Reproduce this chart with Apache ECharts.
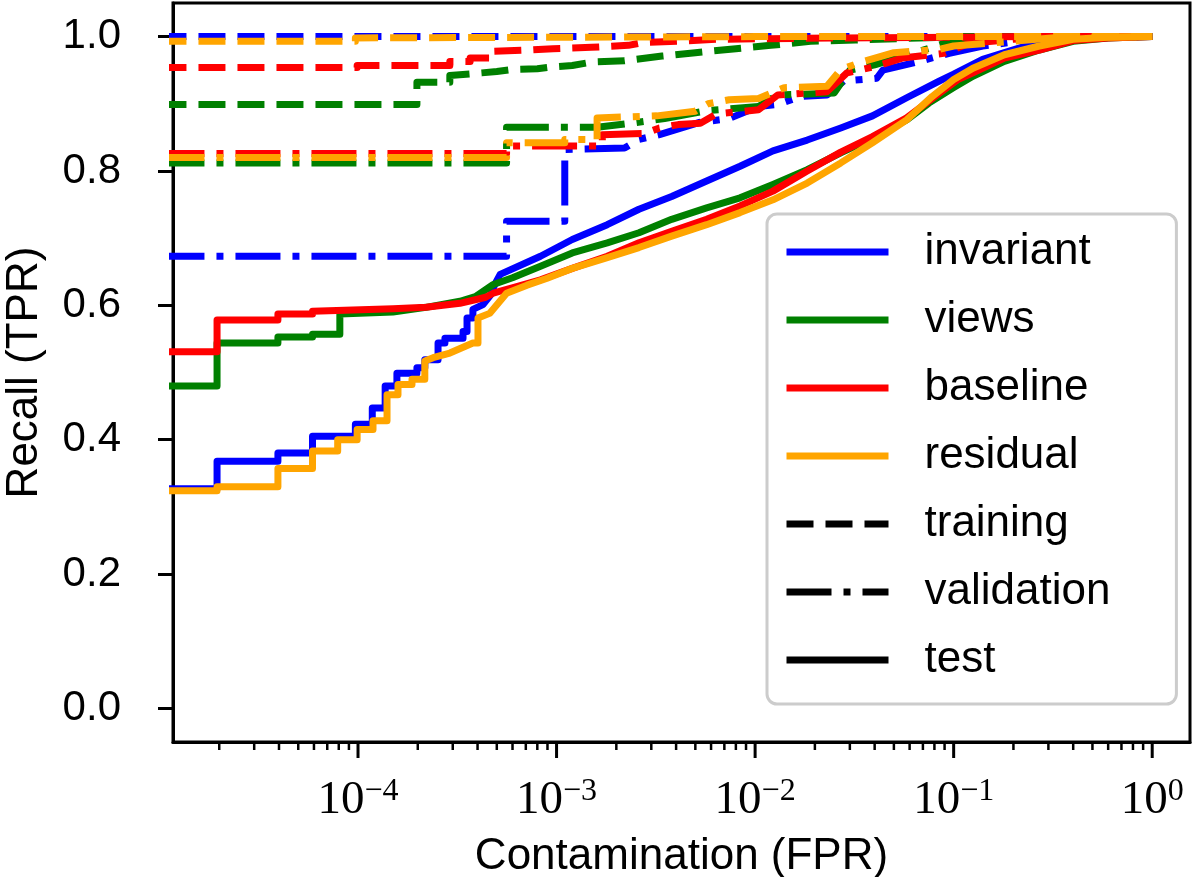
<!DOCTYPE html>
<html lang="en">
<head>
<meta charset="utf-8">
<script src="https://cdn.jsdelivr.net/npm/echarts@6/dist/echarts.min.js"></script>
<style>
    html, body { margin: 0; background: #fff; }
    #main { width: 1200px; height: 877px; }
</style>
</head>
<body>
<div id="main"></div>
<script>
    // ROC curves, [FPR, TPR]
    var invariantTrain = [[1e-5, 1.0], [1, 1.0]];
    var invariantVal = [[1e-5, 0.673], [5.6e-4, 0.673], [5.6e-4, 0.725], [1.1e-3, 0.725], [1.1e-3, 0.832],
        [2.2e-3, 0.834], [2.6e-3, 0.847], [3.3e-3, 0.854], [5.2e-3, 0.872], [7.4e-3, 0.878], [1.04e-2, 0.896],
        [1.3e-2, 0.899], [1.7e-2, 0.911], [2.3e-2, 0.913], [2.8e-2, 0.934], [4.1e-2, 0.938], [4.4e-2, 0.95],
        [6.5e-2, 0.962], [9.5e-2, 0.975], [0.14, 0.986], [0.2, 0.992], [0.25, 0.996], [0.3, 1.0], [1, 1.0]];
    var invariantTest = [[1e-5, 0.327], [1.95e-5, 0.327], [1.95e-5, 0.368], [3.95e-5, 0.368], [3.95e-5, 0.380],
        [5.9e-5, 0.380], [5.9e-5, 0.405], [9.7e-5, 0.405], [9.7e-5, 0.423], [1.18e-4, 0.423], [1.18e-4, 0.447],
        [1.37e-4, 0.447], [1.37e-4, 0.480], [1.57e-4, 0.480], [1.57e-4, 0.499], [1.98e-4, 0.499], [1.98e-4, 0.507],
        [2.17e-4, 0.507], [2.17e-4, 0.519], [2.53e-4, 0.519], [2.53e-4, 0.544], [2.74e-4, 0.544], [2.74e-4, 0.551],
        [3.38e-4, 0.551], [3.38e-4, 0.561], [3.54e-4, 0.561], [3.54e-4, 0.581], [3.79e-4, 0.581], [3.79e-4, 0.594],
        [4.26e-4, 0.601], [4.62e-4, 0.614], [4.9e-4, 0.632], [5.2e-4, 0.646], [8.3e-4, 0.673], [1.2e-3, 0.698],
        [1.8e-3, 0.72], [2.6e-3, 0.743], [3.8e-3, 0.762], [5.7e-3, 0.785], [8.4e-3, 0.807], [1.23e-2, 0.83],
        [1.83e-2, 0.846], [2.7e-2, 0.864], [3.9e-2, 0.882], [5.8e-2, 0.909], [8.5e-2, 0.934], [0.1, 0.944],
        [0.14, 0.966], [0.23, 0.986], [0.37, 0.996], [0.6, 0.999], [1, 1.0]];

    var viewsTrain = [[1e-5, 0.899], [1.98e-4, 0.899], [1.98e-4, 0.932], [2.9e-4, 0.932], [2.9e-4, 0.942],
        [4.2e-4, 0.946], [5e-4, 0.948], [6e-4, 0.951], [8e-4, 0.952], [9.6e-4, 0.955], [1.2e-3, 0.957],
        [1.5e-3, 0.962], [2.2e-3, 0.964], [3.4e-3, 0.971], [5e-3, 0.976], [8e-3, 0.982], [1.2e-2, 0.987],
        [1.9e-2, 0.993], [3.2e-2, 0.995], [6.7e-2, 0.998], [0.11, 1.0], [1, 1.0]];
    var viewsVal = [[1e-5, 0.812], [5.6e-4, 0.812], [5.6e-4, 0.865], [1.6e-3, 0.865], [2.5e-3, 0.872],
        [3.5e-3, 0.878], [5.8e-3, 0.89], [1.04e-2, 0.896], [1.3e-2, 0.913], [2.5e-2, 0.916], [3e-2, 0.95],
        [4e-2, 0.958], [5.5e-2, 0.97], [9e-2, 0.99], [0.15, 0.995], [0.3, 1.0], [1, 1.0]];
    var viewsTest = [[1e-5, 0.480], [1.95e-5, 0.480], [1.95e-5, 0.544], [3.95e-5, 0.544], [3.95e-5, 0.553],
        [5.9e-5, 0.553], [5.9e-5, 0.557], [8.1e-5, 0.557], [8.1e-5, 0.587], [1.5e-4, 0.59], [2.2e-4, 0.597],
        [3.26e-4, 0.606], [3.9e-4, 0.613], [4.8e-4, 0.631], [6e-4, 0.641], [8.3e-4, 0.658], [1.2e-3, 0.678],
        [1.8e-3, 0.693], [2.6e-3, 0.708], [3.8e-3, 0.728], [5.7e-3, 0.745], [8.4e-3, 0.76], [1.23e-2, 0.78],
        [1.83e-2, 0.802], [2.7e-2, 0.827], [3.9e-2, 0.849], [5.8e-2, 0.876], [7.5e-2, 0.901], [0.1, 0.924],
        [0.125, 0.941], [0.18, 0.963], [0.27, 0.98], [0.4, 0.993], [0.6, 0.998], [1, 1.0]];

    var baselineTrain = [[1e-5, 0.954], [9.9e-5, 0.954], [9.9e-5, 0.957], [2.9e-4, 0.957], [2.9e-4, 0.963],
        [3.67e-4, 0.963], [3.67e-4, 0.968], [4.8e-4, 0.968], [4.8e-4, 0.978], [7.3e-4, 0.980], [9.6e-4, 0.982],
        [1.5e-3, 0.984], [2.3e-3, 0.987], [2.7e-3, 0.991], [4.1e-3, 0.993], [6.4e-3, 0.996], [2.5e-2, 0.998],
        [0.11, 0.999], [0.24, 1.0], [1, 1.0]];
    var baselineVal = [[1e-5, 0.826], [5.6e-4, 0.826], [5.6e-4, 0.837], [1.7e-3, 0.837], [1.7e-3, 0.854],
        [2.8e-3, 0.856], [3.3e-3, 0.864], [4.1e-3, 0.869], [5.3e-3, 0.871], [6.4e-3, 0.885], [1.04e-2, 0.891],
        [1.3e-2, 0.913], [2.3e-2, 0.918], [2.9e-2, 0.946], [4.1e-2, 0.956], [5.5e-2, 0.968], [8.9e-2, 0.975],
        [0.12, 0.99], [0.2, 0.996], [0.35, 1.0], [1, 1.0]];
    var baselineTest = [[1e-5, 0.531], [1.95e-5, 0.531], [1.95e-5, 0.578], [3.95e-5, 0.578], [3.95e-5, 0.587],
        [5.9e-5, 0.587], [5.9e-5, 0.591], [1.5e-4, 0.595], [2.2e-4, 0.597], [3.26e-4, 0.603], [4.4e-4, 0.612],
        [4.8e-4, 0.618], [6.3e-4, 0.628], [8.3e-4, 0.638], [1.2e-3, 0.655], [1.8e-3, 0.673], [2.6e-3, 0.693],
        [3.8e-3, 0.71], [5.7e-3, 0.728], [8.4e-3, 0.748], [1.23e-2, 0.77], [1.83e-2, 0.8], [2.7e-2, 0.828],
        [3.9e-2, 0.851], [5.8e-2, 0.879], [8.5e-2, 0.916], [0.105, 0.936], [0.125, 0.946], [0.18, 0.968],
        [0.27, 0.98], [0.4, 0.994], [0.6, 0.998], [1, 1.0]];

    var residualTrain = [[1e-5, 0.993], [9.7e-5, 0.993], [9.7e-5, 0.998], [1e-3, 0.999], [1e-2, 1.0], [1, 1.0]];
    var residualVal = [[1e-5, 0.820], [5.6e-4, 0.820], [5.6e-4, 0.842], [1.1e-3, 0.842], [1.1e-3, 0.847],
        [1.6e-3, 0.847], [1.6e-3, 0.879], [3.2e-3, 0.882], [5e-3, 0.889], [5.8e-3, 0.9], [7.4e-3, 0.906],
        [1.04e-2, 0.908], [1.4e-2, 0.924], [2.3e-2, 0.926], [2.7e-2, 0.951], [3.5e-2, 0.963], [5e-2, 0.976],
        [8.5e-2, 0.981], [0.1, 0.986], [0.2, 0.993], [0.35, 0.999], [1, 1.0]];
    var residualTest = [[1e-5, 0.324], [1.95e-5, 0.324], [1.95e-5, 0.330], [3.95e-5, 0.330], [3.95e-5, 0.357],
        [5.9e-5, 0.357], [5.9e-5, 0.383], [7.9e-5, 0.383], [7.9e-5, 0.400], [9.9e-5, 0.400], [9.9e-5, 0.415],
        [1.19e-4, 0.415], [1.19e-4, 0.428], [1.4e-4, 0.428], [1.4e-4, 0.467], [1.59e-4, 0.467], [1.59e-4, 0.482],
        [1.87e-4, 0.482], [1.87e-4, 0.490], [2.17e-4, 0.490], [2.17e-4, 0.517], [2.39e-4, 0.522], [2.9e-4, 0.529],
        [3.79e-4, 0.544], [4.02e-4, 0.544], [4.02e-4, 0.581], [4.6e-4, 0.588], [5.6e-4, 0.618], [7.1e-4, 0.630],
        [8.9e-4, 0.640], [1.2e-3, 0.655], [1.8e-3, 0.671], [2.6e-3, 0.686], [3.8e-3, 0.703], [5.7e-3, 0.72],
        [8.4e-3, 0.738], [1.23e-2, 0.757], [1.83e-2, 0.782], [2.7e-2, 0.812], [3.9e-2, 0.842], [5.8e-2, 0.876],
        [7.8e-2, 0.911], [0.1, 0.936], [0.125, 0.953], [0.18, 0.973], [0.27, 0.986], [0.4, 0.996], [0.6, 0.999],
        [1, 1.0]];

    var models = ['invariant', 'views', 'baseline', 'residual'];
    var splits = ['training', 'validation', 'test'];
    var yTicks = [0, 0.2, 0.4, 0.6, 0.8, 1.0];
    var majorTicks = [1e-4, 1e-3, 1e-2, 1e-1, 1];
    var minorTicks = [2e-5, 3e-5, 4e-5, 5e-5, 6e-5, 7e-5, 8e-5, 9e-5,
        2e-4, 3e-4, 4e-4, 5e-4, 6e-4, 7e-4, 8e-4, 9e-4,
        2e-3, 3e-3, 4e-3, 5e-3, 6e-3, 7e-3, 8e-3, 9e-3,
        2e-2, 3e-2, 4e-2, 5e-2, 6e-2, 7e-2, 8e-2, 9e-2,
        0.2, 0.3, 0.4, 0.5, 0.6, 0.7, 0.8, 0.9];

    var curves = {
        invariant: [invariantTrain, invariantVal, invariantTest],
        views: [viewsTrain, viewsVal, viewsTest],
        baseline: [baselineTrain, baselineVal, baselineTest],
        residual: [residualTrain, residualVal, residualTest]
    };
    var colors = ['#0000ff', '#008000', '#ff0000', '#ffa500'];
    var dashes = [[27, 12], [45, 12, 7, 12], 'solid'];
    var SANS = '"Liberation Sans", Arial, sans-serif';
    var SERIF = '"Liberation Serif", "Times New Roman", serif';
    var LW = 7;

    var series = [];
    models.forEach(function (m, i) {
        curves[m].forEach(function (d, j) {
            series.push({
                type: 'line',
                name: j === 2 ? m : m + ' ' + splits[j],
                data: d,
                symbol: 'none',
                showSymbol: false,
                clip: true,
                color: colors[i],
                lineStyle: { color: colors[i], width: LW, type: dashes[j], cap: 'butt', join: 'round' },
                emphasis: { disabled: true }
            });
        });
    });
    // black entries for the line-style part of the legend
    splits.forEach(function (s, j) {
        series.push({
            type: 'line',
            name: s,
            data: [],
            symbol: 'none',
            color: '#000',
            lineStyle: { color: '#000', width: LW, type: dashes[j], cap: 'butt' }
        });
    });

    // x ticks of the log axis (major + minor), drawn at their axis positions
    function tickSeries(name, values, len, width) {
        return {
            type: 'custom',
            name: name,
            silent: true,
            clip: false,
            data: values.map(function (v) { return [v, 0]; }),
            renderItem: function (params, api) {
                var x = api.coord([api.value(0), 0])[0];
                var bottom = params.coordSys.y + params.coordSys.height;
                return {
                    type: 'line',
                    shape: { x1: x, y1: bottom, x2: x, y2: bottom + len },
                    style: { stroke: '#000', lineWidth: width }
                };
            }
        };
    }
    series.push(tickSeries('major ticks', majorTicks, 16, 3));
    series.push(tickSeries('minor ticks', minorTicks, 8, 2.5));

    var axisLineStyle = { color: '#000', width: 3 };

    var chart = echarts.init(document.getElementById('main'), null, { renderer: 'canvas' });
    chart.setOption({
        animation: false,
        grid: {
            left: 173, right: 10, top: 3, bottom: 135,
            containLabel: false,
            outerBoundsMode: 'none',
            show: true, borderColor: '#000', borderWidth: 3, backgroundColor: 'transparent'
        },
        xAxis: {
            type: 'log',
            logBase: 10,
            min: 1.17e-5,
            max: 1.55,
            name: 'Contamination (FPR)',
            nameLocation: 'middle',
            nameGap: 93,
            nameTextStyle: { fontFamily: SANS, fontSize: 44, color: '#000' },
            axisLine: { onZero: false, lineStyle: axisLineStyle },
            axisTick: { show: false },
            splitLine: { show: false },
            minorTick: { show: false },
            axisLabel: {
                margin: 34,
                formatter: function (v) {
                    var e = Math.log10(v);
                    if (Math.abs(e - Math.round(e)) > 1e-6) return '';
                    e = Math.round(e);
                    return '{b|10}{s|' + (e < 0 ? '\u2212' : '') + Math.abs(e) + '}';
                },
                rich: {
                    b: { fontFamily: SERIF, fontSize: 47, color: '#000', lineHeight: 50 },
                    s: { fontFamily: SERIF, fontSize: 32, color: '#000', lineHeight: 30, verticalAlign: 'top' }
                }
            }
        },
        yAxis: {
            type: 'value',
            min: -0.05,
            max: 1.05,
            name: 'Recall (TPR)',
            nameLocation: 'middle',
            nameGap: 126,
            nameTextStyle: { fontFamily: SANS, fontSize: 44, color: '#000' },
            axisLine: { show: true, onZero: false, lineStyle: axisLineStyle },
            axisTick: { show: true, length: 15, lineStyle: axisLineStyle, customValues: yTicks },
            splitLine: { show: false },
            axisLabel: {
                margin: 52,
                fontFamily: SANS,
                fontSize: 42,
                color: '#000',
                customValues: yTicks,
                formatter: function (v) { return v.toFixed(1); }
            }
        },
        legend: {
            data: models.concat(splits),
            orient: 'vertical',
            left: 767,
            top: 214,
            padding: [16, 66, 22, 16],
            itemWidth: 102,
            itemHeight: 20,
            itemGap: 24,
            selectedMode: false,
            itemStyle: { opacity: 0 },
            lineStyle: { width: LW },
            textStyle: { fontFamily: SANS, fontSize: 44, color: '#000', padding: [0, 0, 0, 31] },
            backgroundColor: 'rgba(255,255,255,0.8)',
            borderColor: '#cccccc',
            borderWidth: 3,
            borderRadius: 10
        },
        series: series
    });
</script>
</body>
</html>
